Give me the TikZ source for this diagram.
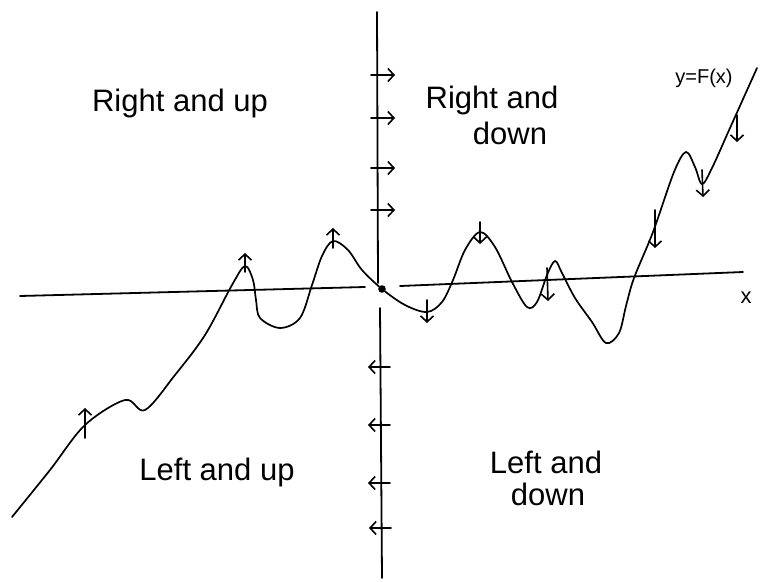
\documentclass[tikz,border=0pt]{standalone}
\usepackage{fontspec}
\setmainfont{Liberation Sans}
\usetikzlibrary{arrows.meta}

\begin{document}
\begin{tikzpicture}[x=1pt,y=-1pt,line width=1.8pt,line cap=round,>={Straight Barb[length=6pt,width=13pt]},
  lbl/.style={font=\fontsize{31}{34}\selectfont,align=center,inner sep=0pt},
  flow/.style={->,line width=1.6pt}]
\useasboundingbox (0,0) rectangle (770,581);
% axes
\draw (20,296) -- (365,287);
\draw (400,286) -- (743,272);
\draw (377,12) -- (378,283);
\draw (380,308) -- (382,578);
\node[lbl,font=\fontsize{22}{26}\selectfont] (xlab) at (746,298) {x};
\fill (382,289) circle (3.8pt);
% arrows along the y axis
\foreach \yy/\xx in {75/378,118/378,168/378,210/378}
  \draw[flow] (\xx-7,\yy) -- (\xx+17,\yy);
\foreach \yy/\xx in {367/381,425/381,483/381,528/382}
  \draw[flow] (\xx+9,\yy) -- (\xx-13,\yy);
% the curve
\draw[line width=1.7pt] plot[smooth,tension=0.55] coordinates {
  (12,517) (50,470) (85,425) (125,400) (145,410) (175,375) (205,335)
  (232,285) (245,266) (253,280) (256,300) (260,318) (280,328) (300,318)
  (312,285) (322,256) (333,241) (348,250) (362,270) (382,289) (405,305)
  (427,312) (442,302) (453,280) (465,250) (480,232) (495,247) (512,282)
  (527,307) (537,302) (547,275) (555,261) (562,273) (575,298) (592,322)
  (606,343) (619,333) (626,306) (634,278) (653,232) (674,172)
  (686,152) (695,167) (702,184) (712,168) (730,128) (757,68)};
% direction of motion on the curve
\draw[flow] (85,438) -- (85,408);
\draw[flow] (245,272) -- (245,253);
\draw[flow] (333,248) -- (333,228);
\draw[flow] (427,300) -- (427,323);
\draw[flow] (480,222) -- (480,244);
\draw[flow] (547,268) -- (548,301);
\draw[flow] (655,210) -- (655,248);
\draw[flow] (702,170) -- (703,197);
\draw[flow] (737,115) -- (737,142);
% labels
\node[lbl] (ru) at (180,103) {Right and up};
\node[lbl] (rd) at (492,100) {Right and};
\node[lbl] (rd2) at (510,133) {down};
\node[lbl] (lu) at (217,472) {Left and up};
\node[lbl] (ld) at (546,462) {Left and};
\node[lbl] (ld2) at (548,494) {down};
\node[lbl,font=\fontsize{20}{24}\selectfont] (fx) at (704,78) {y=F(x)};
\end{tikzpicture}
\end{document}
